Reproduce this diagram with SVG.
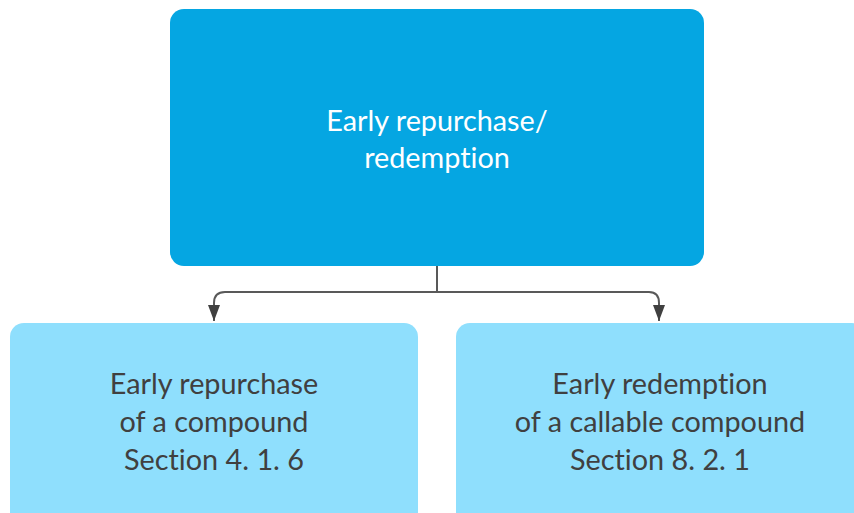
<svg xmlns="http://www.w3.org/2000/svg" width="854" height="513" viewBox="0 0 854 513">
<style>
.t{font-family:"Lato","Noto Sans","Liberation Sans",sans-serif;font-size:28.8px;text-anchor:middle;font-variant-ligatures:none}
.w{fill:#ffffff}
.d{fill:#404040}
.c{fill:none;stroke:#595959;stroke-width:2}
</style>
<defs>
<marker id="ah" viewBox="0 0 16 12" refX="16" refY="6" markerWidth="16" markerHeight="12" markerUnits="userSpaceOnUse" orient="auto">
<path d="M0 0 L16 6 L0 12 Z" fill="#404040"/>
</marker>
</defs>
<rect width="854" height="513" fill="#ffffff"/>
<g id="connectors">
<path class="c" d="M437 266 V292"/>
<path class="c" d="M437 292 H225 Q214 292 214 303 V321" marker-end="url(#ah)"/>
<path class="c" d="M437 292 H649 Q659 292 659 303 V321" marker-end="url(#ah)"/>
</g>
<g id="top">
<rect x="170" y="9" width="534" height="257" rx="14" fill="#05A6E2"/>
<text class="t w" x="437" y="131">Early repurchase/</text>
<text class="t w" x="437" y="168">redemption</text>
</g>
<g id="left">
<rect x="10" y="323" width="408" height="210" rx="14" fill="#8FDFFD"/>
<text class="t d" x="214" y="394">Early repurchase</text>
<text class="t d" x="214" y="432">of a compound</text>
<text class="t d" x="214" y="470">Section 4. 1. 6</text>
</g>
<g id="right">
<rect x="456" y="323" width="410" height="210" rx="14" fill="#8FDFFD"/>
<text class="t d" x="660" y="394">Early redemption</text>
<text class="t d" x="660" y="432">of a callable compound</text>
<text class="t d" x="660" y="470">Section 8. 2. 1</text>
</g>
</svg>
